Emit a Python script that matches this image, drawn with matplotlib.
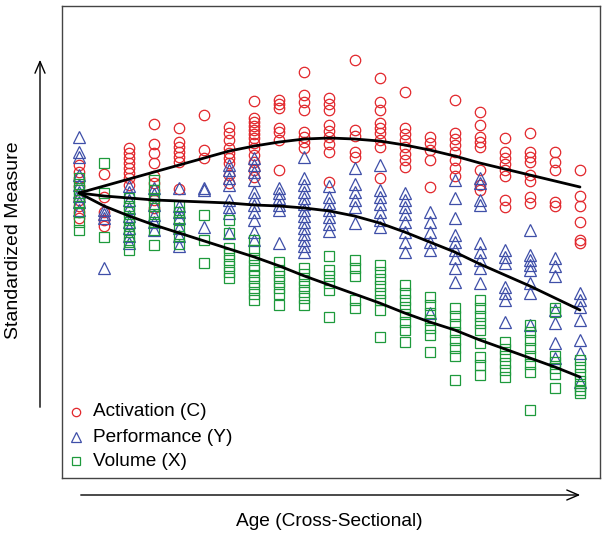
import matplotlib
matplotlib.use("Agg")
import matplotlib.pyplot as plt
from matplotlib.patches import FancyArrowPatch
from matplotlib.lines import Line2D

plt.rcParams['font.family'] = ['Liberation Sans', 'DejaVu Sans']

# ---- data: standardized values per age group (index 0..20) ----
activation = [
    [0.75, 0.575, 0.425, 0.225, -0.125, -0.275, -0.425, -0.575],
    [0.525, -0.05, -0.425, -0.625, -0.775],
    [1.175, 1.05, 0.925, 0.8, 0.675, 0.55, 0.425, 0.25],
    [1.775, 1.275, 1.05, 0.8, 0.475, 0.3, 0.125, -0.125, -0.325],
    [1.675, 1.325, 1.2, 1.075, 0.95, 0.825, 0.15],
    [2.0, 1.125, 0.925],
    [1.7, 1.55, 1.375, 1.175, 1.05, 0.925, 0.8, 0.5, 0.3],
    [2.35, 1.925, 1.825, 1.725, 1.625, 1.525, 1.425, 1.3, 1.175, 1.0, 0.825, 0.625, 0.45],
    [2.375, 2.275, 2.175, 1.675, 1.575, 1.375, 0.625],
    [3.075, 2.5, 2.325, 2.125, 1.575, 1.45, 1.325, 1.175],
    [2.425, 2.275, 2.125, 1.75, 1.6, 1.45, 1.275, 1.075, 0.325],
    [3.375, 1.625, 1.475, 1.075, 0.95],
    [2.925, 2.325, 2.125, 1.8, 1.675, 1.55, 1.375, 1.2, 0.425],
    [2.575, 1.675, 1.525, 1.375, 1.2, 1.025, 0.875, 0.7],
    [1.45, 1.3, 1.125, 0.875, 0.2],
    [2.375, 1.55, 1.4, 1.25, 1.075, 0.875, 0.675, 0.475],
    [2.075, 1.75, 1.45, 1.325, 1.2, 0.625, 0.25, 0.125],
    [1.425, 1.075, 0.925, 0.775, 0.625, 0.475, -0.125, -0.3],
    [1.55, 1.075, 0.95, 0.825, 0.5, 0.35, -0.05, -0.2],
    [1.075, 0.825, 0.625, -0.175, -0.275],
    [0.625, -0.025, -0.275, -0.675, -1.125, -1.2],
]
performance = [
    [1.45, 1.075, 0.95, 0.5, 0.25, 0.075, -0.025, -0.175, -0.375],
    [-0.375, -0.475, -0.575, -1.825],
    [0.225, 0.075, -0.125, -0.325, -0.525, -0.675, -0.825, -1.025, -1.2],
    [0.175, 0.025, -0.25, -0.5, -0.675, -0.875],
    [0.175, -0.275, -0.425, -0.575, -0.825, -1.025, -1.275],
    [0.175, 0.125, -0.8],
    [0.75, 0.625, 0.425, 0.25, -0.125, -0.3, -0.45, -0.95],
    [0.925, 0.75, 0.575, 0.375, 0.075, -0.075, -0.25, -0.425, -0.625, -0.925, -1.125],
    [0.175, 0.05, -0.075, -0.25, -0.375, -1.2],
    [0.95, 0.425, 0.25, 0.075, -0.075, -0.225, -0.375, -0.525, -0.675, -0.825, -0.975, -1.125, -1.275, -1.425],
    [0.225, -0.05, -0.2, -0.375, -0.55, -0.725, -0.9],
    [0.675, 0.275, 0.075, -0.125, -0.3, -0.7],
    [0.75, 0.125, -0.05, -0.225, -0.425, -0.625, -0.8],
    [0.05, -0.125, -0.3, -0.475, -0.675, -0.925, -1.175, -1.425],
    [-0.425, -0.675, -0.925, -1.175, -1.375, -2.95],
    [0.375, -0.075, -0.575, -1.0, -1.175, -1.375, -1.575, -1.825, -2.175],
    [0.425, 0.3, -0.125, -0.25, -1.2, -1.425, -1.625, -1.825, -2.2],
    [-1.375, -1.55, -1.7, -2.3, -2.45, -2.625, -3.175],
    [-0.875, -1.5, -1.625, -1.75, -1.875, -2.2, -2.45, -3.25],
    [-1.575, -1.775, -2.025, -2.875, -3.2, -3.7, -4.075],
    [-2.45, -2.625, -2.8, -3.125, -3.625, -3.95, -4.675],
]
volume = [
    [0.425, 0.275, 0.125, -0.025, -0.2, -0.425, -0.675, -0.875],
    [0.8, 0.05, -1.05],
    [-0.075, -0.275, -0.425, -0.575, -0.725, -0.875, -1.025, -1.175, -1.375],
    [0.375, 0.125, -0.075, -0.275, -0.475, -0.675, -0.875, -1.25],
    [-0.275, -0.425, -0.625, -0.825, -1.025, -1.225],
    [-0.5, -1.125, -1.7],
    [-0.625, -0.95, -1.325, -1.475, -1.625, -1.775, -1.925, -2.075],
    [-1.125, -1.375, -1.575, -1.75, -1.875, -2.025, -2.175, -2.325, -2.475, -2.625],
    [-1.675, -1.875, -2.025, -2.175, -2.325, -2.475, -2.75],
    [-1.825, -1.975, -2.125, -2.275, -2.425, -2.575, -2.75],
    [-1.525, -1.875, -2.025, -2.2, -2.375, -3.05],
    [-1.625, -1.825, -2.025, -2.625, -2.825],
    [-1.75, -1.925, -2.1, -2.275, -2.45, -2.625, -2.875, -3.55],
    [-2.25, -2.45, -2.625, -2.8, -2.975, -3.175, -3.375, -3.675],
    [-2.55, -2.75, -2.95, -3.125, -3.325, -3.5, -3.925],
    [-2.825, -3.025, -3.225, -3.425, -3.625, -3.825, -4.025, -4.625],
    [-2.625, -2.825, -3.025, -3.2, -3.375, -3.7, -4.05, -4.25, -4.5],
    [-3.675, -3.85, -4.025, -4.2, -4.375, -4.55],
    [-3.25, -3.425, -3.625, -3.825, -4.025, -4.225, -4.425, -5.375],
    [-2.825, -2.925, -4.025, -4.175, -4.325, -4.475, -4.825],
    [-4.125, -4.3, -4.475, -4.65, -4.775, -4.875, -4.95],
]

# fitted trend curves at each age group
fit_activation = [0.05, 0.225, 0.4, 0.575, 0.75, 0.925, 1.1, 1.225, 1.325, 1.4, 1.425,
                  1.4, 1.35, 1.25, 1.125, 0.975, 0.8, 0.65, 0.5, 0.35, 0.2]
fit_performance = [0.05, -0.025, -0.075, -0.125, -0.15, -0.175, -0.2, -0.25, -0.275, -0.325,
                   -0.4, -0.525, -0.7, -0.925, -1.175, -1.425, -1.725, -2.0, -2.275, -2.575, -2.875]
fit_volume = [0.05, -0.275, -0.525, -0.75, -0.95, -1.15, -1.35, -1.55, -1.775, -2.025, -2.25,
              -2.475, -2.7, -2.95, -3.175, -3.375, -3.625, -3.85, -4.075, -4.3, -4.55]

labels = ["Activation (C)", "Performance (Y)", "Volume (X)"]
colors = ["#E2262B", "#3F4FA8", "#1E9A3C"]
markers = ["o", "^", "s"]

W, H = 606, 539
fig = plt.figure(figsize=(W / 100, H / 100), dpi=100)
ax = fig.add_axes([62 / W, (H - 478) / H, 538 / W, 472 / H])

def flat(groups):
    xs, ys = [], []
    for i, g in enumerate(groups):
        xs += [i] * len(g)
        ys += g
    return xs, ys

sizes = [7.5, 8.5, 6.5]
for data, c, m, ms in zip([activation, performance, volume], colors, markers, sizes):
    xs, ys = flat(data)
    ax.plot(xs, ys, linestyle='none', marker=m, markersize=ms, markerfacecolor='none',
            markeredgecolor=c, markeredgewidth=0.9)

ages = list(range(len(fit_activation)))
for f in [fit_activation, fit_performance, fit_volume]:
    ax.plot(ages, f, color='black', linewidth=2.0, solid_capstyle='round')

ax.set_xlim(-0.68, 20.8)
ax.set_ylim(-7.075, 4.725)
ax.set_xticks([])
ax.set_yticks([])
for s in ax.spines.values():
    s.set_color('#444444')
    s.set_linewidth(1.0)

def fx(px):
    return px / W

def fy(py):
    return 1 - py / H

# legend (drawn manually, no frame)
legend_rows = [412, 437, 461]
leg_sizes = [6.0, 7.0, 5.8]
for lab, c, m, ms, ry in zip(labels, colors, markers, leg_sizes, legend_rows):
    fig.add_artist(Line2D([fx(76)], [fy(ry)], linestyle='none', marker=m, markersize=ms,
                          markerfacecolor='none', markeredgecolor=c, markeredgewidth=0.9,
                          transform=fig.transFigure))
    fig.text(fx(93), fy(ry), lab, ha='left', va='center', fontsize=13.7)

arrow_kw = dict(arrowstyle='->,head_length=0.7,head_width=0.3', color='black',
                linewidth=1.0, transform=fig.transFigure, mutation_scale=12)
fig.add_artist(FancyArrowPatch((fx(40), fy(410)), (fx(40), fy(57)), **arrow_kw))
fig.add_artist(FancyArrowPatch((fx(78), fy(495)), (fx(583), fy(495)), **arrow_kw))

fig.text(fx(14), fy(240), "Standardized Measure", rotation=90, ha='center', va='center',
         fontsize=14)
fig.text(fx(329), fy(522), "Age (Cross-Sectional)", ha='center', va='center', fontsize=13.8)

fig.savefig("out.png", dpi=100)
